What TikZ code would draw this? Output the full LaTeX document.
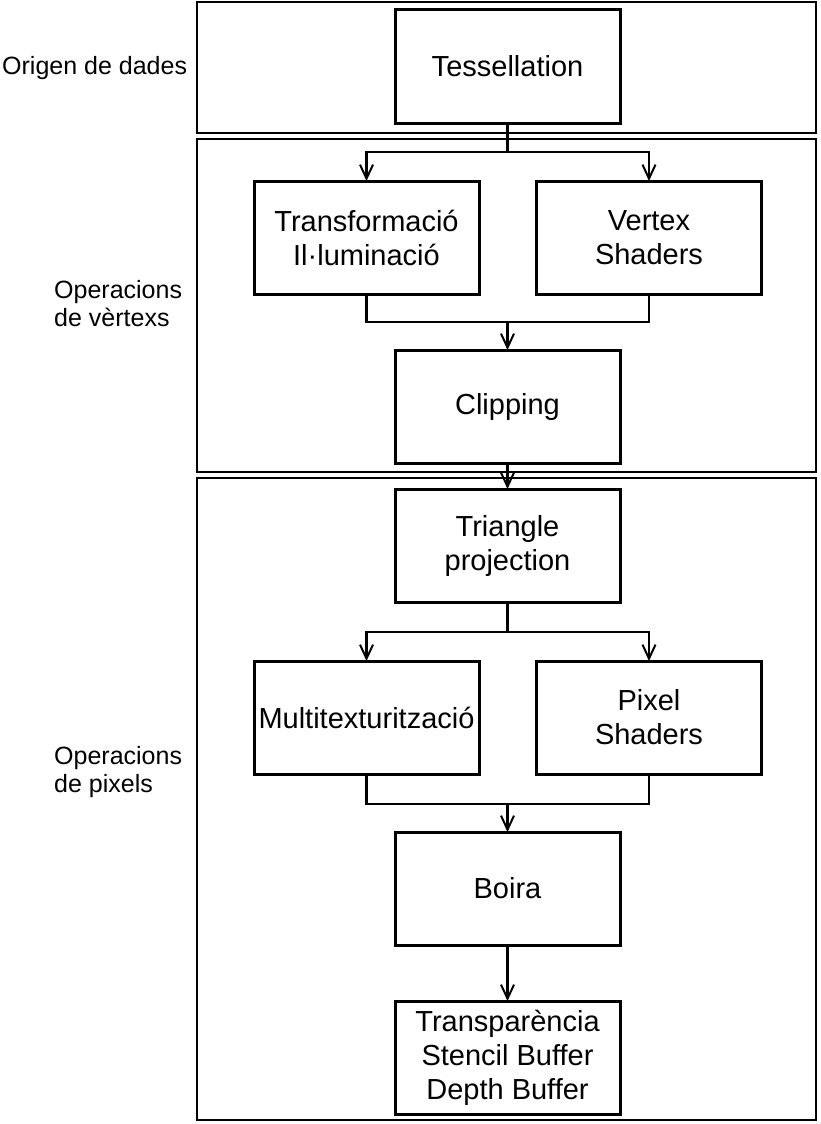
\documentclass[tikz,border=0pt]{standalone}
\usepackage{fontspec}
\setmainfont{Liberation Sans}
\usetikzlibrary{positioning, arrows.meta}

\tikzset{
  stage/.style = {shape=rectangle, draw, line width=3pt, align=center,
    minimum width=225pt, minimum height=113pt, inner sep=0pt, outer sep=0pt,
    font=\fontsize{29}{34}\selectfont},
  phase/.style = {align=left, inner sep=0pt, anchor=west,
    font=\fontsize{25}{28}\selectfont},
  frame/.style = {draw, line width=2pt},
  link/.style = {draw, line width=2.4pt},
  flow/.style = {link, -{Straight Barb[length=14pt, width=13pt, line width=2pt]}}
}

\begin{document}
\begin{tikzpicture}[x=1pt, y=1pt]
  \useasboundingbox (0,0) rectangle (820,-1124);

  % frames
  \draw[frame] (197,-2) rectangle (816,-133);
  \draw[frame] (197,-139) rectangle (816,-472);
  \draw[frame] (197,-478) rectangle (816,-1120);

  % phase labels
  \node[phase] (origen) at (2,-68) {Origen de dades};
  \node[phase] (vertexs) at (54,-304) {Operacions\\de vèrtexs};
  \node[phase] (pixels) at (54,-772) {Operacions\\de pixels};

  % stages
  \node[stage] (tess) at (507.5,-66.5) {Tessellation};
  \node[stage, below=58pt of tess, xshift=-141pt] (transf) {Transformació\\Il·luminació};
  \node[stage, below=58pt of tess, xshift=141.5pt] (vertex) {Vertex\\Shaders};
  \node[stage, below=56pt of transf, xshift=141pt] (clip) {Clipping};
  \node[stage, below=26pt of clip] (tri) {Triangle\\projection};
  \node[stage, below=59pt of tri, xshift=-141pt] (multi) {Multitexturització};
  \node[stage, below=59pt of tri, xshift=141.5pt] (pixel) {Pixel\\Shaders};
  \node[stage, below=58pt of multi, xshift=141pt] (boira) {Boira};
  \node[stage, below=56pt of boira] (transp) {Transparència\\Stencil Buffer\\Depth Buffer};

  % vertex part
  \draw[link] (tess.south) -- ++(0,-29) coordinate (s1);
  \draw[flow] (s1) -| (transf.north);
  \draw[flow] (s1) -| (vertex.north);
  \draw[link] (transf.south) -- ++(0,-28) coordinate (j1) -| (vertex.south);
  \draw[flow] (j1 -| clip.north) -- (clip.north);
  \draw[flow] (clip.south) -- (tri.north);

  % pixel part
  \draw[link] (tri.south) -- ++(0,-30) coordinate (s2);
  \draw[flow] (s2) -| (multi.north);
  \draw[flow] (s2) -| (pixel.north);
  \draw[link] (multi.south) -- ++(0,-30) coordinate (j2) -| (pixel.south);
  \draw[flow] (j2 -| boira.north) -- (boira.north);
  \draw[flow] (boira.south) -- (transp.north);
\end{tikzpicture}
\end{document}
